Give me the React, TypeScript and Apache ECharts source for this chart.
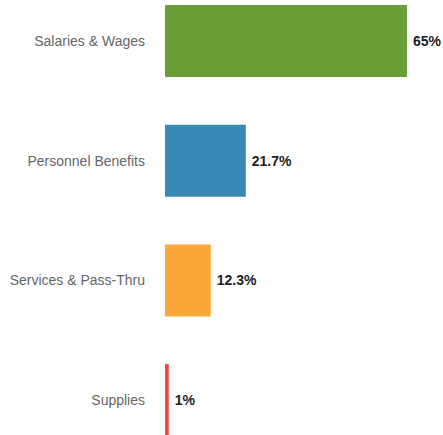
import React, { useEffect, useRef } from "react";
import * as echarts from "echarts";

const categories = ["Salaries & Wages", "Personnel Benefits", "Services & Pass-Thru", "Supplies"];
const values = [65, 21.7, 12.3, 1];
const labels = ["65%", "21.7%", "12.3%", "1%"];
const colors = ["#689f38", "#3a89b5", "#f9a93a", "#f0453a"];

export default function App() {
  const ref = useRef<HTMLDivElement>(null);
  useEffect(() => {
    const chart = echarts.init(ref.current!, null, { renderer: "svg" });
    chart.setOption({
      animation: false,
      grid: { left: 165, right: 36, top: 0, bottom: 0, containLabel: false },
      xAxis: { type: "value", min: 0, max: 65, show: false },
      yAxis: {
        type: "category",
        inverse: true,
        data: categories,
        axisLine: { show: false },
        axisTick: { show: false },
        splitLine: { show: false },
        axisLabel: {
          margin: 20,
          color: "#666",
          fontSize: 14,
          fontFamily: "Liberation Sans, Arial, sans-serif",
        },
      },
      series: [
        {
          type: "bar",
          barWidth: 72,
          data: values.map((v, i) => ({ value: v, itemStyle: { color: colors[i] } })),
          label: {
            show: true,
            position: "right",
            distance: 6,
            formatter: (p: any) => labels[p.dataIndex],
            color: "#222",
            fontWeight: "bold",
            fontSize: 14,
            fontFamily: "Liberation Sans, Arial, sans-serif",
          },
        },
      ],
    });
    return () => chart.dispose();
  }, []);
  return (
    <div style={{ position: "absolute", left: 0, top: 0, width: 443, height: 435, overflow: "hidden" }}>
      <div ref={ref} style={{ position: "absolute", left: 0, top: -19, width: 443, height: 479 }} />
    </div>
  );
}
